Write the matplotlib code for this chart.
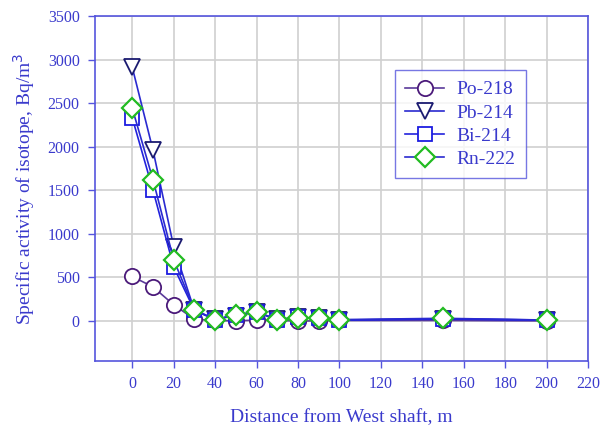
import numpy as np
import matplotlib.pyplot as plt

plt.rcParams['font.family'] = ['Liberation Serif', 'DejaVu Serif']

# data
distance = [0, 10, 20, 30, 40, 50, 60, 70, 80, 90, 100, 150, 200]
po218 = [510, 390, 185, 20, 5, 0, 10, 5, 0, 0, 5, 5, 0]
pb214 = [2910, 1960, 850, 120, 20, 60, 100, 20, 40, 30, 10, 25, 10]
bi214 = [2330, 1500, 620, 120, 15, 70, 100, 10, 40, 30, 10, 20, 10]
rn222 = [2440, 1620, 700, 130, 15, 70, 105, 15, 35, 30, 15, 30, 10]

x_ticks = list(range(0, 221, 20))
y_ticks = list(range(0, 3501, 500))

txt = '#3a3acc'
axc = '#5555dd'

fig = plt.figure(figsize=(6.07, 4.26), dpi=100)
ax = fig.add_axes([95 / 607, 1 - 361 / 426, 493 / 607, 345 / 426])

ax.plot(distance, po218, '-o', color='#5a3a9a', mfc='white', mec='#4b1a7a',
        ms=11, mew=1.3, lw=1.2, label='Po-218', zorder=3)
ax.plot(distance, pb214, '-v', color='#2a2ad0', mfc='white', mec='#1a1a70',
        ms=12, mew=1.3, lw=1.2, label='Pb-214', zorder=4)
ax.plot(distance, bi214, '-s', color='#2222dd', mfc='white', mec='#1c1ce0',
        ms=10, mew=1.3, lw=1.2, label='Bi-214', zorder=5)
ax.plot(distance, rn222, '-D', color='#2a2ad0', mfc='white', mec='#22bb22',
        ms=10, mew=1.6, lw=1.2, label='Rn-222', zorder=6)

ax.set_xlim(-18, 220)
ax.set_ylim(-460, 3500)
ax.set_xticks(x_ticks)
ax.set_yticks(y_ticks)
ax.grid(True, color='#d0d0d0', lw=1.2)
ax.set_axisbelow(True)

for s in ax.spines.values():
    s.set_color(axc)
    s.set_linewidth(1.2)
ax.tick_params(colors=axc, labelcolor=txt, labelsize=11.5, length=5, width=1,
               pad=6)

ax.set_xlabel('Distance from West shaft, m', color=txt, fontsize=14, labelpad=12)
ax.set_ylabel('Specific activity of isotope, Bq/m$^3$', color=txt, fontsize=14,
              labelpad=8)

leg = ax.legend(loc='upper left', bbox_to_anchor=(0.608, 0.843), fontsize=14,
                frameon=True, fancybox=False, edgecolor=axc, labelcolor=txt,
                handlelength=2.0, handletextpad=0.6, borderpad=0.55,
                labelspacing=0.28, borderaxespad=0)
leg.get_frame().set_linewidth(1.0)

fig.savefig('out.png', dpi=100)
